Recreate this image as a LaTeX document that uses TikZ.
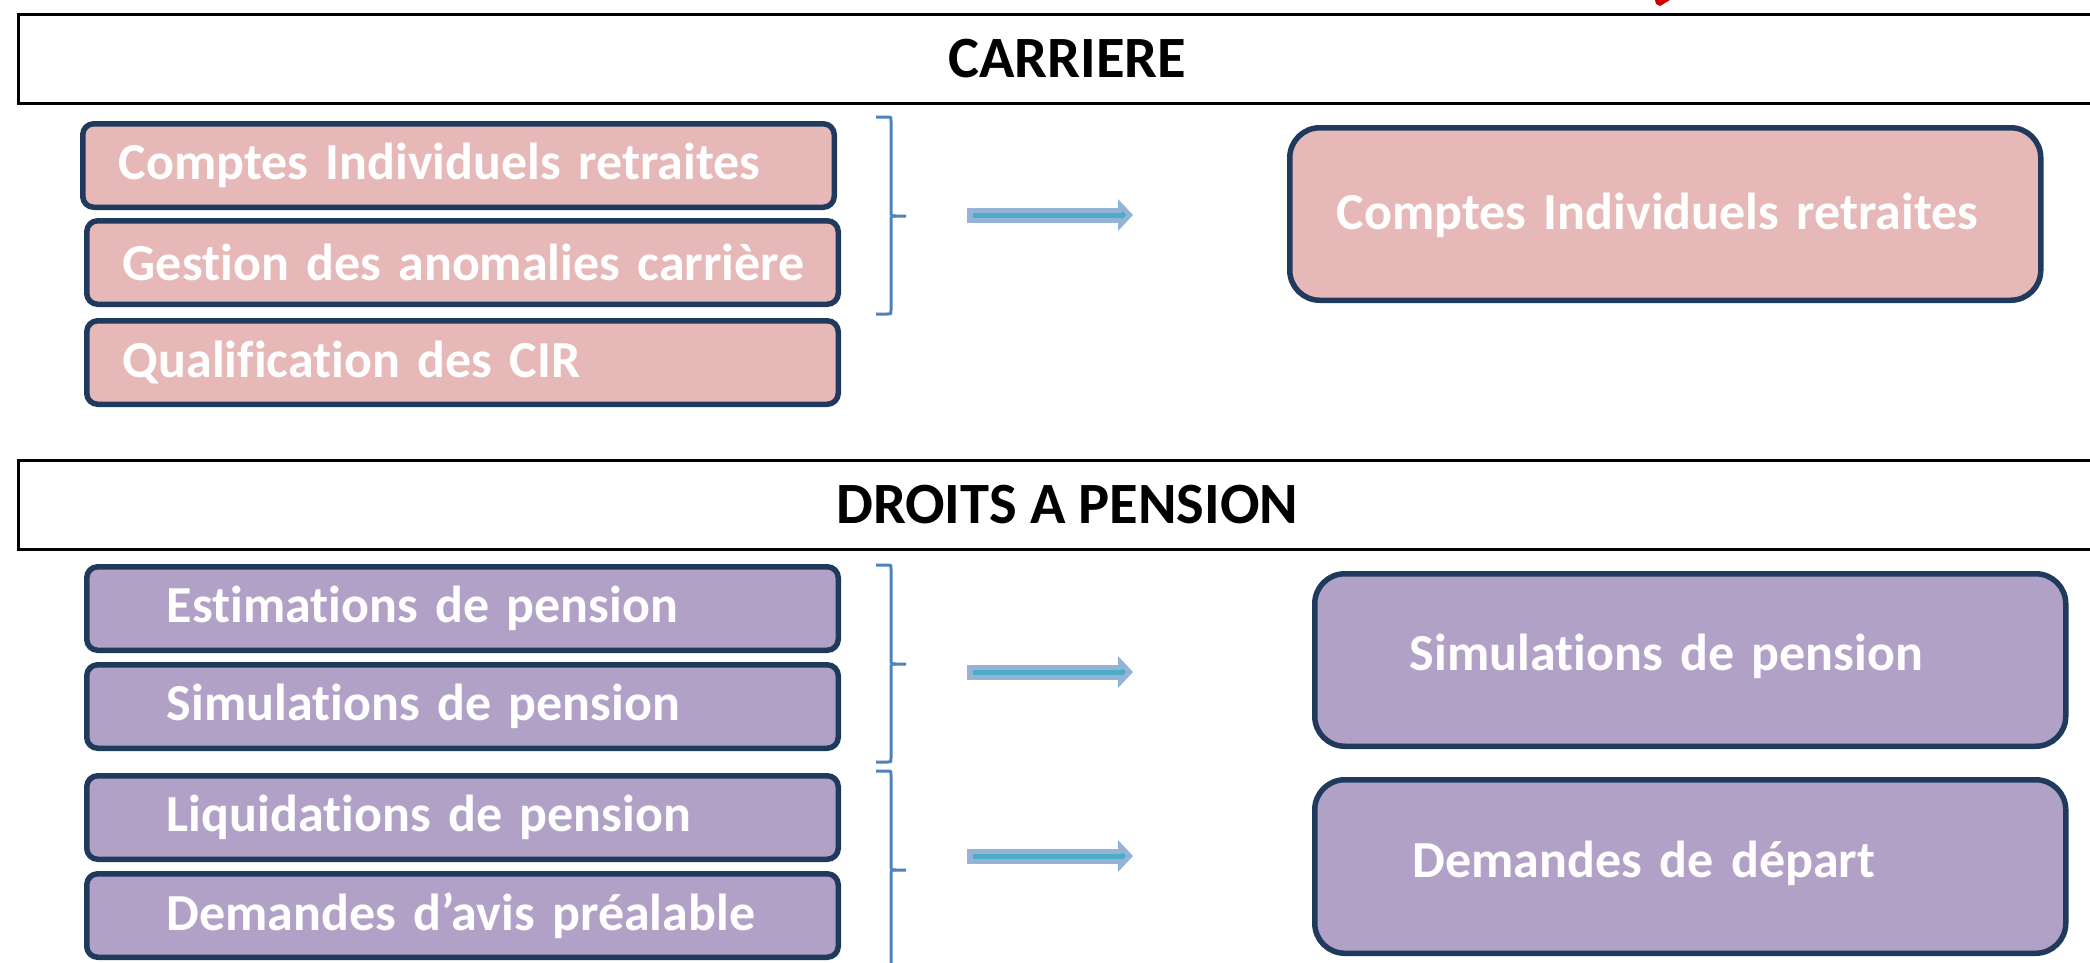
\documentclass[tikz,border=0pt]{standalone}
\usepackage{fontspec}
\setmainfont{Carlito}[Ligatures=NoCommon]
\usetikzlibrary{positioning,arrows.meta}
\definecolor{rosebox}{HTML}{E6B9B8}
\definecolor{mauvebox}{HTML}{B2A1C7}
\definecolor{navyline}{HTML}{1F3A5C}
\definecolor{bracecol}{HTML}{4F81BD}
\definecolor{arrowout}{HTML}{95B3D7}
\definecolor{arrowin}{HTML}{4BACC6}
\tikzset{
  basic/.style  = {draw=navyline, line width=5.5pt, rectangle, text=white,
                   font=\fontsize{52}{60}\selectfont\bfseries, inner sep=0pt, align=left},
  header/.style = {draw=black, line width=2.5pt, rectangle, inner sep=0pt,
                   font=\fontsize{58.5}{66}\selectfont\bfseries,
                   minimum width=2098pt, minimum height=89pt, anchor=north west},
  item/.style   = {basic, rounded corners=11pt, text width=751.5pt, minimum height=83.5pt,
                   execute at begin node=\hspace*{#1}},
  result/.style = {basic, rounded corners=30pt, text width=751pt, minimum height=172.5pt,
                   anchor=north west, execute at begin node=\hspace*{#1}},
  bracecurve/.style = {draw=bracecol, line width=3pt},
  fatarrow/.style = {draw=arrowout, line width=15pt, -{Triangle[length=15pt,width=31pt]}},
  thinarrow/.style = {draw=arrowin, line width=5pt, shorten <=6pt, shorten >=7pt,
                   -{Triangle[length=4pt,width=8pt]}}
}

\begin{document}
\begin{tikzpicture}[x=1pt, y=-1pt]
\useasboundingbox (0,0) rectangle (2090,962);

% bit of a red shape cut off at the top
\fill[red!80!black] (1655,0) -- (1670,0) -- (1660,6) -- (1656,4) -- cycle;

% CARRIERE
\node[header] (h1) at (17,13) {CARRIERE};

\begin{scope}[every node/.style={item=36pt, fill=rosebox}]
\node[anchor=north west] (h11) at (80,121) {Comptes Individuels retraites};
\node[below=8pt of h11, xshift=4pt] (h12) {Gestion des anomalies carrière};
\node[below=11pt of h12] (h13) {Qualification des CIR};
\end{scope}

\node[result=47pt, fill=rosebox, text depth=6pt] (r1) at (1287,125) {Comptes Individuels retraites};

% DROITS A PENSION
\node[header] (h2) at (17,459) {DROITS A PENSION};

\begin{scope}[every node/.style={item=80pt, fill=mauvebox}]
\node[anchor=north west] (h21) at (84,564) {Estimations de pension};
\node[below=9pt of h21] (h22) {Simulations de pension};
\node[below=22pt of h22] (h23) {Liquidations de pension};
\node[below=9pt of h23] (h24) {Demandes d’avis préalable};
\end{scope}

\node[result=95pt, fill=mauvebox, text depth=15pt] (r21) at (1312,571) {Simulations de pension};
\node[result=98pt, fill=mauvebox, text depth=15pt, minimum height=173.5pt] (r22) at (1312,777) {Demandes de départ};

% braces: top, tip and bottom of each
\foreach \T/\M/\B in {117/216/314, 565/664/762, 771/870/970}{
  \coordinate (bt) at (876,\T);
  \coordinate (bm) at (906,\M);
  \coordinate (bb) at (876,\B);
  \draw[bracecurve] (bt) -- ++(11,0) .. controls ++(4,0) .. ++(4,4) -- (891,\M-5)
    .. controls (891,\M) .. (896,\M) -- (bm);
  \draw[bracecurve] (896,\M) .. controls (891,\M) .. (891,\M+5) -- (891,\B-4)
    .. controls (891,\B) .. (887,\B) -- (bb);
}

% arrows between the two columns
\coordinate (a1s) at (967,215);  \coordinate (a1e) at (1133,215);
\coordinate (a2s) at (967,672);  \coordinate (a2e) at (1133,672);
\coordinate (a3s) at (967,856);  \coordinate (a3e) at (1133,856);

\foreach \value in {1,2,3}{
  \draw[fatarrow] (a\value s) -- (a\value e);
  \draw[thinarrow] (a\value s) -- (a\value e);
}
\end{tikzpicture}
\end{document}
